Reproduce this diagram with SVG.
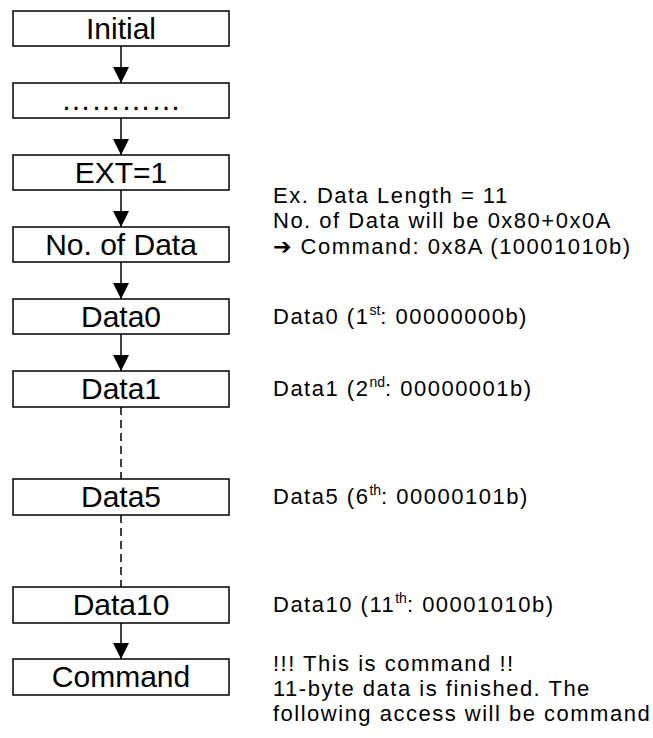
<svg xmlns="http://www.w3.org/2000/svg" width="653" height="738" viewBox="0 0 653 738">
<style>
.box{fill:#fff;stroke:#000;stroke-width:1.5}
.lbl{font-family:"Liberation Sans",Arial,sans-serif;font-size:30px;text-anchor:middle;fill:#000}
.note{font-family:"Liberation Sans",Arial,sans-serif;font-size:22px;letter-spacing:1.5px;fill:#000}
.sup{font-size:14px;letter-spacing:0}
.conn{stroke:#000;stroke-width:1.5;fill:none}
.dash{stroke-dasharray:8,5}
</style>
<defs>
<marker id="ah" markerUnits="userSpaceOnUse" markerWidth="16" markerHeight="16" viewBox="0 0 16 16" refX="16" refY="8" orient="auto">
<path d="M0,0 L16,8 L0,16 Z" fill="#000"/>
</marker>
</defs>
<rect width="653" height="738" fill="#fff"/>
<g id="connectors">
<line class="conn" x1="121" y1="46" x2="121" y2="83" marker-end="url(#ah)"/>
<line class="conn" x1="121" y1="118" x2="121" y2="155" marker-end="url(#ah)"/>
<line class="conn" x1="121" y1="190" x2="121" y2="227" marker-end="url(#ah)"/>
<line class="conn" x1="121" y1="262" x2="121" y2="299" marker-end="url(#ah)"/>
<line class="conn" x1="121" y1="334" x2="121" y2="371" marker-end="url(#ah)"/>
<line class="conn dash" x1="121" y1="407" x2="121" y2="479"/>
<line class="conn dash" x1="121" y1="515" x2="121" y2="587"/>
<line class="conn" x1="121" y1="623" x2="121" y2="659" marker-end="url(#ah)"/>
</g>
<g id="n-initial"><rect class="box" x="13" y="11" width="216" height="35"/><text class="lbl" x="121" y="39">Initial</text></g>
<g id="n-dots"><rect class="box" x="13" y="83" width="216" height="35"/><text class="lbl" x="121" y="110" font-size="28">…………</text></g>
<g id="n-ext"><rect class="box" x="13" y="155" width="216" height="35"/><text class="lbl" x="121" y="183">EXT=1</text></g>
<g id="n-noofdata"><rect class="box" x="13" y="227" width="216" height="35"/><text class="lbl" x="121" y="255">No. of Data</text></g>
<g id="n-data0"><rect class="box" x="13" y="299" width="216" height="35"/><text class="lbl" x="121" y="327">Data0</text></g>
<g id="n-data1"><rect class="box" x="13" y="371" width="216" height="36"/><text class="lbl" x="121" y="399">Data1</text></g>
<g id="n-data5"><rect class="box" x="13" y="479" width="216" height="36"/><text class="lbl" x="121" y="507">Data5</text></g>
<g id="n-data10"><rect class="box" x="13" y="587" width="216" height="36"/><text class="lbl" x="121" y="615">Data10</text></g>
<g id="n-command"><rect class="box" x="13" y="659" width="216" height="36"/><text class="lbl" x="121" y="687">Command</text></g>
<g id="notes">
<text class="note" x="273" y="203">Ex. Data Length = 11</text>
<text class="note" x="273" y="228">No. of Data will be 0x80+0x0A</text>
<text class="note" x="273" y="254"><tspan font-family="DejaVu Sans" font-weight="bold">➔</tspan> Command: 0x8A (10001010b)</text>
<text class="note" x="273" y="324">Data0 (1<tspan class="sup" dy="-9">st</tspan><tspan dy="9">: 00000000b)</tspan></text>
<text class="note" x="273" y="396">Data1 (2<tspan class="sup" dy="-9">nd</tspan><tspan dy="9">: 00000001b)</tspan></text>
<text class="note" x="273" y="504">Data5 (6<tspan class="sup" dy="-9">th</tspan><tspan dy="9">: 00000101b)</tspan></text>
<text class="note" x="273" y="612">Data10 (11<tspan class="sup" dy="-9">th</tspan><tspan dy="9">: 00001010b)</tspan></text>
<text class="note" x="273" y="671">!!! This is command !!</text>
<text class="note" x="273" y="696">11-byte data is finished. The</text>
<text class="note" x="273" y="721">following access will be command</text>
</g>
</svg>
